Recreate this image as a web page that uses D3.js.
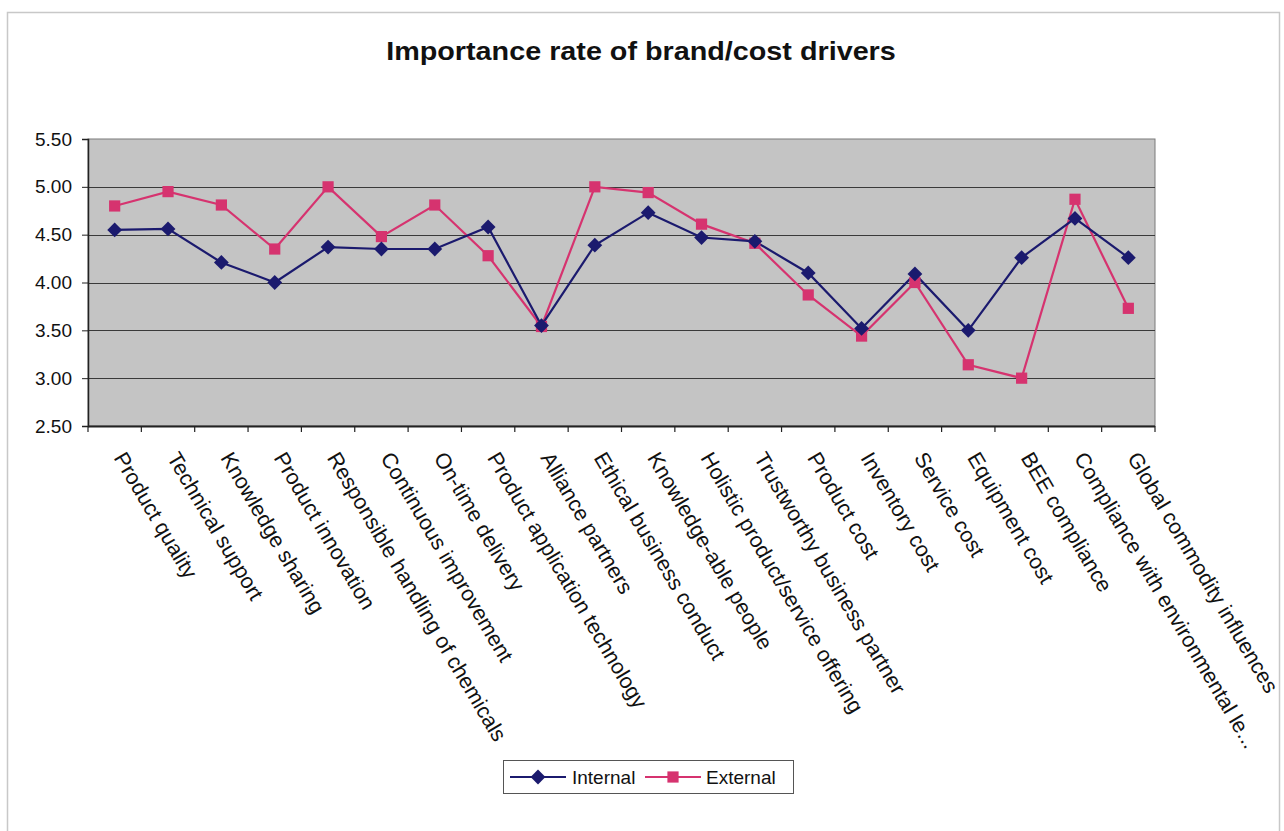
<!DOCTYPE html>
<html>
<head>
<meta charset="utf-8">
<script src="https://cdn.jsdelivr.net/npm/d3@7"></script>
<style>
  html, body { margin: 0; padding: 0; background: #fff; }
  svg { display: block; font-family: Arial, "Liberation Sans", sans-serif; }
</style>
</head>
<body>
<svg id="chart" width="1284" height="831"></svg>
<script>
// Survey drivers and their mean importance ratings
const categories = [
  "Product quality", "Technical support", "Knowledge sharing", "Product innovation",
  "Responsible handling of chemicals", "Continuous improvement", "On-time delivery",
  "Product application technology", "Alliance partners", "Ethical business conduct",
  "Knowledge-able people", "Holistic product/service offering", "Trustworthy business partner",
  "Product cost", "Inventory cost", "Service cost", "Equipment cost", "BEE compliance",
  "Compliance with environmental le...", "Global commodity influences"
];
const internalValues = [4.55, 4.56, 4.21, 4.00, 4.37, 4.35, 4.35, 4.58, 3.55, 4.39,
                        4.73, 4.47, 4.43, 4.10, 3.52, 4.09, 3.50, 4.26, 4.67, 4.26];
const externalValues = [4.80, 4.95, 4.81, 4.35, 5.00, 4.48, 4.81, 4.28, 3.54, 5.00,
                        4.94, 4.61, 4.41, 3.87, 3.44, 4.00, 3.14, 3.00, 4.87, 3.73];
const yTicks = [2.5, 3.0, 3.5, 4.0, 4.5, 5.0, 5.5];
const seriesNames = ["Internal", "External"];

const svg = d3.select("#chart");
const plot = { left: 88, right: 1155, top: 139, bottom: 426 };

// Outer chart frame
svg.append("rect")
  .attr("x", 7.5).attr("y", 12.5).attr("width", 1272).attr("height", 830)
  .attr("fill", "#fff").attr("stroke", "#c8c8c8").attr("stroke-width", 1.5);

// Title (slightly widened, as rendered by the source spreadsheet)
svg.append("text")
  .attr("transform", "translate(641,60) scale(1.15,1)")
  .attr("text-anchor", "middle")
  .attr("font-size", 25).attr("font-weight", "bold")
  .attr("fill", "#111")
  .text("Importance rate of brand/cost drivers");

const x = d3.scaleBand().domain(categories).range([plot.left, plot.right]).padding(0);
const y = d3.scaleLinear().domain([2.5, 5.5]).range([plot.bottom, plot.top]);

// Plot area background
svg.append("rect")
  .attr("x", plot.left).attr("y", plot.top)
  .attr("width", plot.right - plot.left).attr("height", plot.bottom - plot.top)
  .attr("fill", "#c4c4c4").attr("stroke", "#7a7a7a").attr("stroke-width", 1);

// Horizontal gridlines
svg.append("g")
  .selectAll("line")
  .data(yTicks.slice(1, -1))
  .join("line")
  .attr("x1", plot.left).attr("x2", plot.right)
  .attr("y1", d => Math.round(y(d)) + 0.5).attr("y2", d => Math.round(y(d)) + 0.5)
  .attr("stroke", "#3a3a3a").attr("stroke-width", 1.2);

// Y axis
const yAxis = svg.append("g")
  .attr("transform", `translate(${plot.left},0)`)
  .call(d3.axisLeft(y).tickValues(yTicks).tickFormat(d3.format(".2f")).tickSize(6).tickPadding(10));
yAxis.select(".domain").attr("stroke", "#222").attr("stroke-width", 1.5);
yAxis.selectAll(".tick line").attr("stroke", "#222");
yAxis.selectAll(".tick text")
  .attr("font-size", 19).attr("fill", "#111")
  .attr("font-family", "Arial, 'Liberation Sans', sans-serif");

// X axis: ticks fall on category boundaries
const boundaries = categories.map(c => x(c)).concat([plot.right]);
svg.append("line")
  .attr("x1", plot.left).attr("x2", plot.right)
  .attr("y1", plot.bottom + 0.5).attr("y2", plot.bottom + 0.5)
  .attr("stroke", "#222").attr("stroke-width", 1.8);
svg.append("g")
  .selectAll("line")
  .data(boundaries)
  .join("line")
  .attr("x1", d => d).attr("x2", d => d)
  .attr("y1", plot.bottom).attr("y2", plot.bottom + 6)
  .attr("stroke", "#222").attr("stroke-width", 1.2);

// Rotated category labels
svg.append("g")
  .selectAll("text")
  .data(categories)
  .join("text")
  .attr("transform", d => `translate(${x(d) + x.bandwidth() / 2 + 5},454) rotate(59.5)`)
  .attr("dy", "0.35em")
  .attr("font-size", 21.5)
  .attr("fill", "#111")
  .text(d => d);

const cx = d => x(d) + x.bandwidth() / 2;
const line = d3.line().x(d => cx(d.cat)).y(d => y(d.v));

const series = [
  { name: seriesNames[0], values: internalValues, color: "#1b1a6e", marker: "diamond" },
  { name: seriesNames[1], values: externalValues, color: "#d6336f", marker: "square" }
];

const diamond = d3.symbol().type(d3.symbolDiamond2).size(140);
const square = d3.symbol().type(d3.symbolSquare2).size(160);
const markerPath = m => m === "diamond" ? diamond() : square();

// Draw the External series first so Internal sits on top where they meet
[series[1], series[0]].forEach(s => {
  const pts = categories.map((c, i) => ({ cat: c, v: s.values[i] }));
  svg.append("path")
    .datum(pts)
    .attr("d", line)
    .attr("fill", "none")
    .attr("stroke", s.color)
    .attr("stroke-width", 2.2);
});
[series[1], series[0]].forEach(s => {
  const pts = categories.map((c, i) => ({ cat: c, v: s.values[i] }));
  svg.append("g")
    .selectAll("path")
    .data(pts)
    .join("path")
    .attr("transform", d => `translate(${cx(d.cat)},${y(d.v)})`)
    .attr("d", markerPath(s.marker))
    .attr("fill", s.color)
    .attr("stroke", "none");
});

// Legend
const legend = svg.append("g");
legend.append("rect")
  .attr("x", 503.5).attr("y", 760.5).attr("width", 290).attr("height", 33)
  .attr("fill", "#fff").attr("stroke", "#555").attr("stroke-width", 1);
const legendItems = [
  { s: series[0], x0: 510, tx: 572 },
  { s: series[1], x0: 645, tx: 706 }
];
legendItems.forEach(item => {
  const ly = 777;
  legend.append("line")
    .attr("x1", item.x0).attr("x2", item.x0 + 56)
    .attr("y1", ly).attr("y2", ly)
    .attr("stroke", item.s.color).attr("stroke-width", 2);
  legend.append("path")
    .attr("transform", `translate(${item.x0 + 28},${ly})`)
    .attr("d", markerPath(item.s.marker))
    .attr("fill", item.s.color);
  legend.append("text")
    .attr("x", item.tx).attr("y", ly).attr("dy", "0.36em")
    .attr("font-size", 19).attr("fill", "#111")
    .text(item.s.name);
});
</script>
</body>
</html>
